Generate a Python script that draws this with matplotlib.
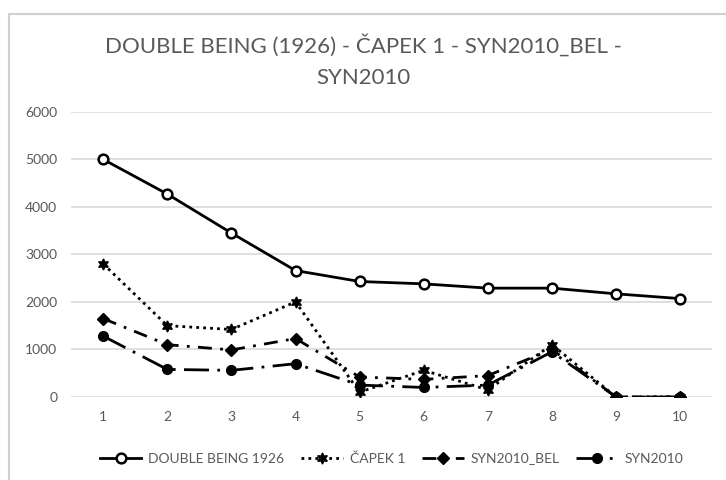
import matplotlib
matplotlib.use("Agg")
from matplotlib import pyplot as plt
from matplotlib.patches import Rectangle

plt.rcParams['font.family'] = ['Lato', 'DejaVu Sans']

# data
x_labels = ['1', '2', '3', '4', '5', '6', '7', '8', '9', '10']
double_being = [5000, 4270, 3450, 2660, 2430, 2380, 2290, 2290, 2170, 2070]
capek = [2800, 1500, 1420, 2000, 100, 560, 150, 1100, 0, 0]
syn_bel = [1650, 1100, 990, 1230, 420, 370, 450, 1000, 0, 0]
syn2010 = [1280, 580, 560, 700, 250, 200, 250, 950, 0, 0]

grey = '#595959'

fig = plt.figure(figsize=(7.26, 4.8), dpi=100)
ax = fig.add_axes([0.098, 0.173, 0.883, 0.594])

# outer chart frame
fig.patches.append(Rectangle((9 / 726, -0.1), 1.2, 1.1 - 14 / 480,
                             transform=fig.transFigure, fill=False,
                             edgecolor='#d0d0d0', linewidth=1.5))

xs = list(range(1, len(x_labels) + 1))
ax.plot(xs, double_being, color='black', linewidth=2, marker='o',
        markersize=7, markerfacecolor='white', markeredgewidth=1.8,
        label='DOUBLE BEING 1926')
ax.plot(xs, capek, color='black', linewidth=2, linestyle=(0, (1, 1.5)),
        marker=(6, 1, 0), markersize=8, label='ČAPEK 1')
ax.plot(xs, syn_bel, color='black', linewidth=2,
        linestyle=(0, (5, 3, 1, 3)), marker='D', markersize=6,
        label='SYN2010_BEL')
ax.plot(xs, syn2010, color='black', linewidth=2,
        linestyle=(0, (9, 3, 1, 3)), marker='o', markersize=7,
        label='SYN2010')

ax.set_xlim(0.5, 10.5)
ax.set_ylim(0, 6000)
ax.set_yticks(range(0, 6001, 1000))
ax.set_xticks(xs)
ax.set_xticklabels(x_labels)
ax.grid(axis='y', color='#d9d9d9', linewidth=1.2)
ax.set_axisbelow(True)
for s in ax.spines.values():
    s.set_visible(False)
ax.tick_params(length=0, labelsize=10, labelcolor=grey, pad=10)

fig.text(0.5, 0.873, 'DOUBLE BEING (1926) - ČAPEK 1 - SYN2010_BEL -\nSYN2010',
         ha='center', va='center', fontsize=16, color=grey, linespacing=1.75)

leg = ax.legend(loc='center', bbox_to_anchor=(0.5, -0.215), ncol=4,
                frameon=False, fontsize=10, handlelength=3,
                columnspacing=1.2, handletextpad=0.5)
for t in leg.get_texts():
    t.set_color(grey)

fig.savefig('out.png', dpi=100)
